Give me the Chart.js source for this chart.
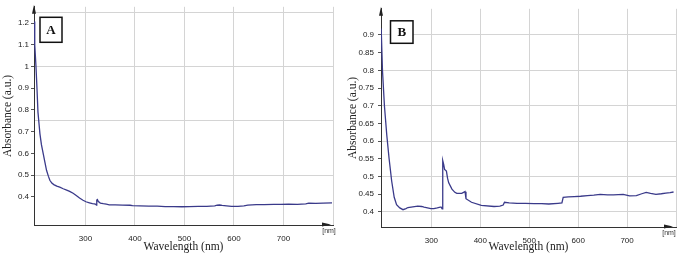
<!DOCTYPE html>
<html><head><meta charset="utf-8">
<script src="https://cdn.jsdelivr.net/npm/chart.js@4"></script>
<style>
html,body{margin:0;padding:0;background:#fff;width:685px;height:254px;overflow:hidden}
canvas{position:absolute;top:0}
#cA{left:0}
#cB{left:343px}
</style></head>
<body>
<canvas id="cA" width="342" height="254"></canvas>
<canvas id="cB" width="342" height="254"></canvas>
<script>
// ---- data ----
const wavelengthA = [196,197,198,200,202,204,206,208,211,214.7,218,221.3,225,228,232,236,242,248,255,262,268,275,282,288,295,301,308,314,318,321,322,322.8,324,326,330,336,342,348,360,375,390,395,410,428,445,461,478,495,510,528,545,561,566,571,576,585,595,608,620,628,645,661,680,695,710,728,745,751,765,780,798];
const absorbanceA = [1.207,1.15,1.10,1.00,0.90,0.79,0.74,0.69,0.64,0.598,0.56,0.522,0.495,0.476,0.463,0.456,0.449,0.444,0.437,0.431,0.425,0.416,0.405,0.394,0.384,0.377,0.372,0.368,0.367,0.365,0.362,0.385,0.387,0.378,0.371,0.368,0.366,0.363,0.363,0.362,0.361,0.359,0.358,0.357,0.357,0.355,0.355,0.354,0.355,0.356,0.356,0.358,0.361,0.362,0.360,0.358,0.356,0.356,0.358,0.362,0.364,0.364,0.365,0.365,0.366,0.365,0.367,0.371,0.370,0.371,0.372];

const wavelengthB = [197.4,200,204,208.8,213.4,218.8,224,228.8,235.4,242,248,252,262,272,280,285,292,299,305,312,318,320,322,323.2,325,327,330.7,333,335.4,342,348,352,362,368.8,370.7,382,402,428,440,446.8,449.4,459,475,492,510,525,540,558.8,566.8,569.4,580,592,605,619,632,645,660,672,692,705,719,730,739,748,759,770,779,788,795];
const absorbanceB = [0.918,0.80,0.70,0.617,0.552,0.487,0.441,0.420,0.411,0.406,0.409,0.412,0.414,0.416,0.415,0.413,0.411,0.409,0.409,0.411,0.413,0.413,0.408,0.545,0.535,0.52,0.515,0.495,0.482,0.464,0.455,0.452,0.452,0.457,0.437,0.427,0.418,0.415,0.416,0.419,0.427,0.425,0.424,0.424,0.423,0.423,0.422,0.424,0.425,0.441,0.442,0.443,0.444,0.446,0.447,0.449,0.448,0.448,0.449,0.445,0.446,0.451,0.455,0.452,0.449,0.451,0.453,0.454,0.456];

const xTickLabels = [300,400,500,600,700];
const xGridLines = [300,400,500,600,700,800];
const yTickLabelsA = [0.4,0.5,0.6,0.7,0.8,0.9,1.0,1.1,1.2];
const yGridLinesA = [0.5,0.75,1.0,1.25];
const yTickLabelsB = [0.4,0.45,0.5,0.55,0.6,0.65,0.7,0.75,0.8,0.85,0.9];
const yGridLinesB = [0.4,0.5,0.6,0.7,0.8,0.9];
const panelLabels = ['A','B'];
const xTitle = 'Wavelength (nm)';
const yTitle = 'Absorbance (a.u.)';
const unitLabel = '[nm]';

const has = (arr, v) => arr.some(a => Math.abs(a - v) < 1e-6);
const fmt = v => String(Math.round(v * 100) / 100);

const decor = {
  id: 'decor',
  afterDraw(chart) {
    const o = chart.options.plugins.decor;
    const {ctx, chartArea: {left, right, top, bottom}} = chart;
    ctx.save();
    ctx.fillStyle = '#222';
    ctx.beginPath();
    ctx.moveTo(left, top - 2); ctx.lineTo(left - 2, top + 7); ctx.lineTo(left + 2, top + 7);
    ctx.closePath(); ctx.fill();
    ctx.beginPath();
    ctx.moveTo(right + o.arrowDx, bottom - 0.5); ctx.lineTo(right + o.arrowDx - 9, bottom - 2.5); ctx.lineTo(right + o.arrowDx - 9, bottom + 1.5);
    ctx.closePath(); ctx.fill();
    ctx.fillStyle = '#333';
    ctx.font = '7px "Liberation Sans", Arial, sans-serif';
    ctx.textAlign = 'center'; ctx.textBaseline = 'middle';
    ctx.fillText(unitLabel, right + o.unitDx, bottom + 6);
    const bx = left + o.boxDx, by = top + o.boxDy;
    ctx.fillStyle = '#fff';
    ctx.fillRect(bx, by, o.boxW, o.boxH);
    ctx.strokeStyle = '#111'; ctx.lineWidth = 1.5;
    ctx.strokeRect(bx, by, o.boxW, o.boxH);
    ctx.fillStyle = '#111';
    ctx.font = 'bold 13px "Liberation Serif", "Times New Roman", serif';
    ctx.fillText(o.label, bx + o.boxW / 2, by + o.boxH / 2 + 1);
    ctx.restore();
  }
};

function makeChart(id, xs, ys, c) {
  const pts = xs.map((x, i) => ({x: x, y: ys[i]}));
  const tickFont = {family: '"Liberation Sans", Arial, sans-serif', size: 8};
  const titleFont = {family: '"Liberation Serif", "Times New Roman", serif', size: 11.5};
  return new Chart(document.getElementById(id), {
    type: 'line',
    data: {datasets: [{data: pts, borderColor: '#3a3a8a', borderWidth: 1.3, pointRadius: 0, tension: 0, fill: false}]},
    options: {
      responsive: false, animation: false, events: [],
      layout: {padding: {left: 0, right: c.padRight, top: c.padTop, bottom: 0}},
      plugins: {legend: {display: false}, tooltip: {enabled: false}, decor: c.decor},
      scales: {
        x: {
          type: 'linear', min: c.xMin, max: c.xMax,
          afterBuildTicks: s => { s.ticks = xGridLines.map(v => ({value: v})); },
          afterFit: s => { s.height = c.xAxisH; },
          ticks: {autoSkip: false, maxRotation: 0, padding: c.xPad, color: '#222', font: tickFont,
            callback: v => has(xTickLabels, v) ? String(v) : ''},
          grid: {color: '#d4d4d4', lineWidth: 1, drawTicks: false},
          border: {color: '#333', width: 1},
          title: {display: true, text: xTitle, color: '#222', font: titleFont, padding: {top: 0, bottom: 0}}
        },
        y: {
          type: 'linear', min: c.yMin, max: c.yMax,
          afterBuildTicks: s => {
            const vals = c.yLabels.concat(c.yGrid.filter(v => !has(c.yLabels, v))).sort((a, b) => a - b);
            s.ticks = vals.map(v => ({value: v}));
          },
          afterFit: s => { s.width = c.yAxisW; },
          ticks: {autoSkip: false, padding: c.yPad, color: '#222', font: tickFont,
            callback: v => has(c.yLabels, v) ? fmt(v) : ''},
          grid: {
            lineWidth: 1, drawTicks: true, tickLength: 3,
            color: ctx => has(c.yGrid, ctx.tick.value) ? '#d4d4d4' : 'rgba(0,0,0,0)',
            tickColor: ctx => has(c.yLabels, ctx.tick.value) ? '#555' : 'rgba(0,0,0,0)'
          },
          border: {color: '#333', width: 1},
          title: {display: true, text: yTitle, color: '#222', font: titleFont, padding: {top: c.yTitlePad, bottom: 0}}
        }
      }
    },
    plugins: [decor]
  });
}

makeChart('cA', wavelengthA, absorbanceA, {
  xMin: 196, xMax: 800, yMin: 0.27, yMax: 1.275,
  yLabels: yTickLabelsA, yGrid: yGridLinesA,
  padRight: 6, padTop: 5, xAxisH: 29, yAxisW: 34, xPad: 9, yPad: 2, yTitlePad: 1.5,
  decor: {label: panelLabels[0], boxDx: 6, boxDy: 10.5, boxW: 22, boxH: 25, arrowDx: -2, unitDx: -4}
});
makeChart('cB', wavelengthB, absorbanceB, {
  xMin: 197, xMax: 800, yMin: 0.357, yMax: 0.974,
  yLabels: yTickLabelsB, yGrid: yGridLinesB,
  padRight: 3, padTop: 5, xAxisH: 27, yAxisW: 38, xPad: 9, yPad: 4, yTitlePad: 3.5,
  decor: {label: panelLabels[1], boxDx: 9.5, boxDy: 12, boxW: 22.5, boxH: 22.5, arrowDx: -3, unitDx: -7}
});
</script>
</body></html>
